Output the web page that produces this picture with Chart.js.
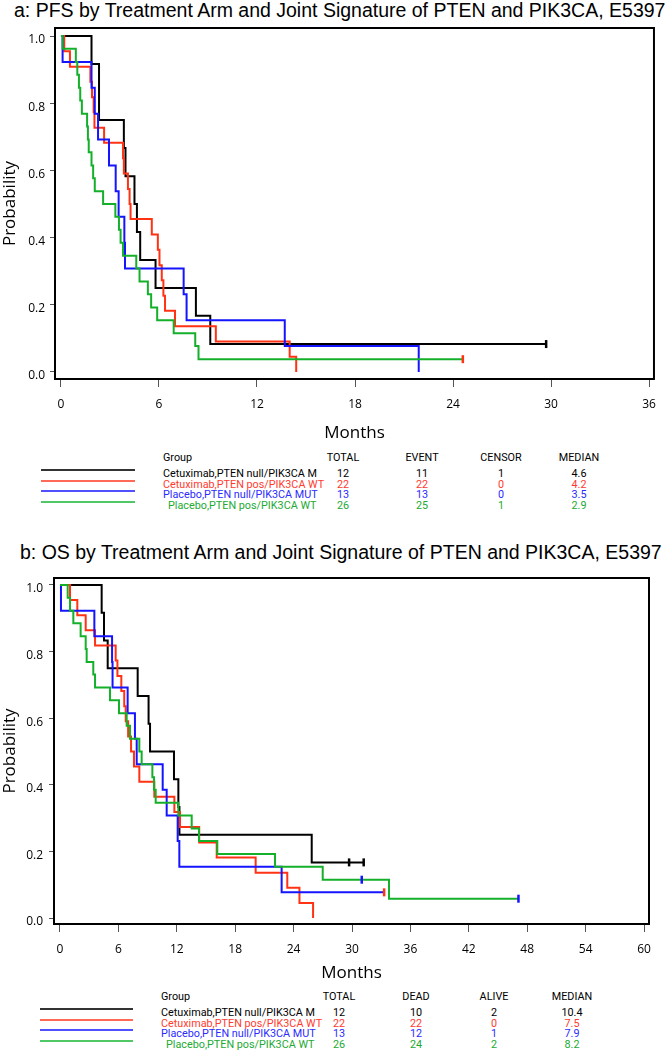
<!DOCTYPE html>
<html>
<head>
<meta charset="utf-8">
<script src="https://cdn.jsdelivr.net/npm/chart.js@4.4.1/dist/chart.umd.min.js"></script>
<style>
  body { margin: 0; background: #fff; }
  #page { position: relative; width: 666px; height: 1050px; overflow: hidden; }
  .title { position: absolute; font-family: "Liberation Sans", Arial, sans-serif; font-size: 19.5px; line-height: 1; white-space: nowrap; transform: translateY(-50%); }
  canvas { position: absolute; left: 0; }
  .cell { position: absolute; font-family: Roboto, sans-serif; font-size: 10.8px; line-height: 1; white-space: nowrap; }
  .mid { transform: translate(-50%, -50%); }
  .left { transform: translateY(-50%); }
  .swatch { position: absolute; height: 2px; }
</style>
</head>
<body>
<div id="page">
  <div class="title" style="left:14px; top:11px;">a: PFS by Treatment Arm and Joint Signature of PTEN and PIK3CA, E5397</div>
  <canvas id="pfs" width="666" height="443" style="top:0px;"></canvas>
  <div class="title" style="left:20px; top:553px;">b: OS by Treatment Arm and Joint Signature of PTEN and PIK3CA, E5397</div>
  <canvas id="os" width="666" height="443" style="top:540px;"></canvas>
</div>
<script>
// groups and colours
const groupNames = ["Cetuximab,PTEN null/PIK3CA M", "Cetuximab,PTEN pos/PIK3CA WT", "Placebo,PTEN null/PIK3CA MUT", "Placebo,PTEN pos/PIK3CA WT"];
const lineColors = ["#000000", "#ff3214", "#1414ff", "#14b02a"];
const textColors = ["#000000", "#ff3b2f", "#2b2bff", "#22aa33"];
const swatchColors = ["#333333", "#ff6a58", "#5050ff", "#50c865"];

// tick labels
const probTicks = [0, 0.2, 0.4, 0.6, 0.8, 1.0];
const pfsMonthTicks = [0, 6, 12, 18, 24, 30, 36];
const osMonthTicks = [0, 6, 12, 18, 24, 30, 36, 42, 48, 54, 60];

// PFS curves (event times in months, survival after each event)
const pfsBlackTime = [1.87, 2.33, 3.85, 3.95, 4.5, 4.65, 4.85, 5.79, 8.26, 9.14];
const pfsBlackSurv = [0.917, 0.75, 0.667, 0.583, 0.5, 0.417, 0.333, 0.25, 0.167, 0.083];
const pfsBlackEnd = 29.7;
const pfsRedTime = [0.2, 0.55, 1.8, 1.9, 2.0, 2.05, 2.64, 3.8, 3.85, 4.1, 4.2, 4.26, 5.56, 5.93, 6.03, 6.17, 6.27, 6.37, 6.98, 9.48, 14.0, 14.4];
const pfsRedSurv = [0.955, 0.909, 0.864, 0.818, 0.773, 0.727, 0.682, 0.636, 0.591, 0.545, 0.5, 0.455, 0.409, 0.364, 0.318, 0.273, 0.227, 0.182, 0.136, 0.091, 0.045, 0.0];
const pfsRedEnd = 14.4;
const pfsBlueTime = [0.1, 1.87, 2.07, 2.27, 2.94, 3.35, 3.53, 3.88, 3.92, 7.51, 7.69, 13.7, 21.9];
const pfsBlueSurv = [0.923, 0.846, 0.769, 0.692, 0.615, 0.538, 0.462, 0.385, 0.308, 0.231, 0.154, 0.077, 0.0];
const pfsBlueEnd = 21.9;
const pfsGreenTime = [0.1, 0.91, 1.0, 1.1, 1.18, 1.28, 1.6, 1.65, 1.7, 1.87, 1.97, 2.07, 2.58, 3.33, 3.55, 3.65, 3.8, 4.61, 4.81, 5.32, 5.52, 5.89, 6.9, 8.22, 8.42];
const pfsGreenSurv = [0.962, 0.923, 0.885, 0.846, 0.808, 0.769, 0.731, 0.692, 0.654, 0.615, 0.577, 0.538, 0.5, 0.462, 0.423, 0.385, 0.346, 0.308, 0.269, 0.231, 0.192, 0.154, 0.115, 0.077, 0.038];
const pfsGreenEnd = 24.6;
// censor marks (months, probability, mark colour index)
const pfsCensorTime = [29.7, 24.6];
const pfsCensorSurv = [0.083, 0.038];
const pfsCensorColor = [0, 1];

// OS curves
const osBlackTime = [4.28, 4.52, 4.9, 7.98, 9.1, 9.25, 11.71, 12.16, 12.27, 25.86];
const osBlackSurv = [0.917, 0.833, 0.75, 0.667, 0.583, 0.5, 0.417, 0.333, 0.25, 0.167];
const osBlackEnd = 31.2;
const osRedTime = [1.03, 1.78, 2.64, 3.6, 5.72, 5.9, 6.3, 6.6, 6.75, 7.0, 7.3, 7.6, 8.15, 9.69, 11.75, 12.33, 14.3, 16.1, 20.1, 23.35, 24.6, 26.0];
const osRedSurv = [0.955, 0.909, 0.864, 0.818, 0.773, 0.727, 0.682, 0.636, 0.591, 0.545, 0.5, 0.455, 0.409, 0.364, 0.318, 0.273, 0.227, 0.182, 0.136, 0.091, 0.045, 0.0];
const osRedEnd = 26.0;
const osBlueTime = [0.1, 3.53, 5.35, 5.4, 6.95, 7.7, 7.88, 10.55, 10.96, 12.09, 12.26, 22.77];
const osBlueSurv = [0.923, 0.846, 0.769, 0.692, 0.615, 0.538, 0.462, 0.385, 0.308, 0.231, 0.154, 0.077];
const osBlueEnd = 33.3;
const osGreenTime = [0.79, 1.03, 1.37, 2.12, 2.64, 2.74, 3.42, 3.6, 5.14, 6.06, 6.85, 7.19, 8.15, 8.39, 9.49, 9.66, 9.83, 12.16, 13.53, 14.28, 16.16, 22.09, 26.99, 33.8];
const osGreenSurv = [0.962, 0.923, 0.885, 0.846, 0.808, 0.769, 0.731, 0.692, 0.654, 0.615, 0.577, 0.538, 0.5, 0.462, 0.423, 0.385, 0.346, 0.308, 0.269, 0.231, 0.192, 0.154, 0.115, 0.058];
const osGreenEnd = 47.1;
const osCensorTime = [29.7, 31.2, 31.0, 33.3, 47.1];
const osCensorSurv = [0.167, 0.167, 0.115, 0.077, 0.058];
const osCensorColor = [0, 0, 2, 1, 2];

// summary tables
const pfsHeaders = ["TOTAL", "EVENT", "CENSOR", "MEDIAN"];
const pfsTotal = ["12", "22", "13", "26"];
const pfsEvent = ["11", "22", "13", "25"];
const pfsCensor = ["1", "0", "0", "1"];
const pfsMedian = ["4.6", "4.2", "3.5", "2.9"];
const osHeaders = ["TOTAL", "DEAD", "ALIVE", "MEDIAN"];
const osTotal = ["12", "22", "13", "26"];
const osDead = ["10", "22", "12", "24"];
const osAlive = ["2", "0", "1", "2"];
const osMedian = ["10.4", "7.5", "7.9", "8.2"];

function kmPoints(times, surv, end) {
  const pts = [{ x: 0, y: 1 }];
  times.forEach((t, i) => pts.push({ x: t, y: surv[i] }));
  if (end > times[times.length - 1]) pts.push({ x: end, y: surv[surv.length - 1] });
  return pts;
}

// frame around the plot area
const boxPlugin = {
  id: "box",
  afterDraw(chart) {
    const { ctx, chartArea: a } = chart;
    ctx.save();
    ctx.strokeStyle = "#000";
    ctx.lineWidth = 2;
    ctx.strokeRect(a.left, a.top, a.right - a.left, a.bottom - a.top);
    ctx.restore();
  }
};

function makeChart(id, curves, censor, cfg) {
  const datasets = curves.map((c, i) => ({
    data: kmPoints(c[0], c[1], c[2]),
    showLine: true,
    stepped: true,
    borderColor: lineColors[i],
    borderWidth: 2,
    pointRadius: 0,
    order: 4 - i
  }));
  datasets.push({
    data: censor[0].map((t, i) => ({ x: t, y: censor[1][i] })),
    showLine: false,
    pointStyle: "line",
    rotation: 90,
    radius: 4,
    borderWidth: 2.5,
    borderColor: censor[2].map(k => lineColors[k]),
    backgroundColor: censor[2].map(k => lineColors[k]),
    order: 0
  });

  new Chart(document.getElementById(id), {
    type: "scatter",
    data: { datasets },
    options: {
      responsive: false,
      animation: false,
      layout: { padding: cfg.padding },
      plugins: { legend: { display: false }, tooltip: { enabled: false } },
      scales: {
        x: {
          type: "linear",
          min: cfg.xMin,
          max: cfg.xMax,
          afterBuildTicks: ax => { ax.ticks = cfg.xTicks.map(v => ({ value: v })); },
          afterFit: s => { s.height = cfg.xHeight; },
          border: { display: false },
          grid: { drawOnChartArea: false, drawTicks: true, tickLength: 8, color: "#555", lineWidth: 1 },
          ticks: {
            autoSkip: false, maxRotation: 0, color: "#000", padding: cfg.xPad,
            font: { family: "Open Sans", size: 12 },
            callback: v => String(v)
          },
          title: { display: true, text: "Months", color: "#000", padding: 0, font: { family: "Open Sans", size: 17 } }
        },
        y: {
          min: cfg.yMin,
          max: cfg.yMax,
          afterBuildTicks: ax => { ax.ticks = probTicks.map(v => ({ value: v })); },
          afterFit: s => { s.width = cfg.yWidth; },
          border: { display: false },
          grid: { drawOnChartArea: false, drawTicks: true, tickLength: 5, color: "#555", lineWidth: 1 },
          ticks: {
            color: "#000", padding: cfg.yPad, labelOffset: 4,
            font: { family: "Open Sans", size: 12 },
            callback: v => v.toFixed(1)
          },
          title: { display: true, text: "Probability", color: "#000", padding: 0, font: { family: "Open Sans", size: 17 } }
        }
      }
    },
    plugins: [boxPlugin]
  });
}

function makeTable(top, pageTop, headers, cols, lineX, groupX, colX) {
  const page = document.getElementById("page");
  const add = (cls, text, x, y, color) => {
    const d = document.createElement("div");
    d.className = "cell " + cls;
    d.textContent = text;
    d.style.left = x + "px";
    d.style.top = y + "px";
    d.style.color = color;
    page.appendChild(d);
  };
  add("left", "Group", groupX, top, "#000");
  headers.forEach((h, j) => add("mid", h, colX[j], top, "#000"));
  groupNames.forEach((g, i) => {
    const y = pageTop + i * 10.6;
    const sw = document.createElement("div");
    sw.className = "swatch";
    sw.style.left = lineX[0] + "px";
    sw.style.width = (lineX[1] - lineX[0]) + "px";
    sw.style.top = Math.round(y - 5) + "px";
    sw.style.background = swatchColors[i];
    page.appendChild(sw);
    add("left", g, groupX + (i === 3 ? 5 : 0), y, textColors[i]);
    cols.forEach((c, j) => add("mid", c[i], colX[j], y, textColors[i]));
  });
}

makeChart("pfs",
  [[pfsBlackTime, pfsBlackSurv, pfsBlackEnd], [pfsRedTime, pfsRedSurv, pfsRedEnd],
   [pfsBlueTime, pfsBlueSurv, pfsBlueEnd], [pfsGreenTime, pfsGreenSurv, pfsGreenEnd]],
  [pfsCensorTime, pfsCensorSurv, pfsCensorColor],
  { padding: { top: 28, right: 9, left: 0, bottom: 0 }, xMin: -0.365, xMax: 36.3, yMin: -0.021, yMax: 1.024,
    xTicks: pfsMonthTicks, xHeight: 64, yWidth: 55, xPad: 10, yPad: 5 });

makeChart("os",
  [[osBlackTime, osBlackSurv, osBlackEnd], [osRedTime, osRedSurv, osRedEnd],
   [osBlueTime, osBlueSurv, osBlueEnd], [osGreenTime, osGreenSurv, osGreenEnd]],
  [osCensorTime, osCensorSurv, osCensorColor],
  { padding: { top: 38, right: 17, left: 0, bottom: 0 }, xMin: -0.616, xMax: 60.51, yMin: -0.018, yMax: 1.021,
    xTicks: osMonthTicks, xHeight: 59, yWidth: 54, xPad: 10, yPad: 6 });

makeTable(458, 474, pfsHeaders, [pfsTotal, pfsEvent, pfsCensor, pfsMedian], [41, 135], 163, [343, 422, 501, 579]);
makeTable(997, 1013, osHeaders, [osTotal, osDead, osAlive, osMedian], [40, 133], 161, [339, 416, 494, 572]);
</script>
</body>
</html>
